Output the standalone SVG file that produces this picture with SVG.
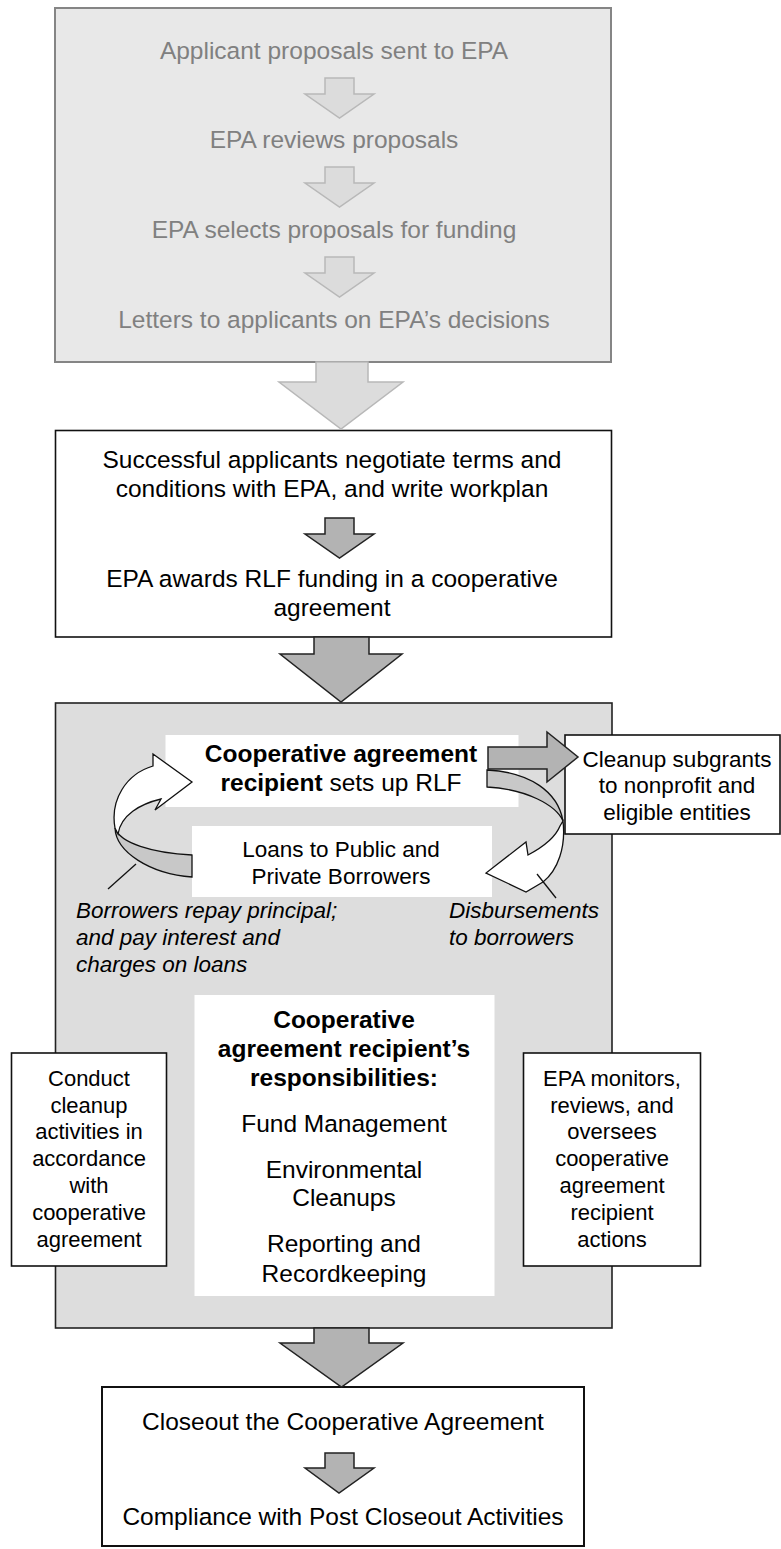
<svg xmlns="http://www.w3.org/2000/svg" width="781" height="1549" viewBox="0 0 781 1549">
<style>
.t{font-family:"Liberation Sans",Arial,sans-serif;text-anchor:middle;fill:#000}
.g{fill:#808080}
.big{font-size:24.5px}
.mid{font-size:22.5px}
.sm{font-size:22px}
.b{font-weight:bold}
.i{font-style:italic;text-anchor:start}
.la{fill:#dcdcdc;stroke:#b8b8b8;stroke-width:1.5}
.da{fill:#b3b3b3;stroke:#222;stroke-width:1.5}
.wb{fill:#fff;stroke:#111;stroke-width:1.6}
.rib{stroke:#111;stroke-width:1.3}
</style>
<g id="box-initial">
<rect x="55" y="8" width="556" height="354" fill="#e8e8e8" stroke="#858585" stroke-width="2"/>
<text class="t g big" x="334" y="59">Applicant proposals sent to EPA</text>
<text class="t g big" x="334" y="148">EPA reviews proposals</text>
<text class="t g big" x="334" y="238">EPA selects proposals for funding</text>
<text class="t g big" x="334" y="328">Letters to applicants on EPA’s decisions</text>
</g>
<g id="box-negotiate">
<rect class="wb" x="55.5" y="430.5" width="556" height="206.5"/>
<text class="t big" x="332" y="468">Successful applicants negotiate terms and</text>
<text class="t big" x="332" y="497">conditions with EPA, and write workplan</text>
<text class="t big" x="332" y="587">EPA awards RLF funding in a cooperative</text>
<text class="t big" x="332" y="616">agreement</text>
</g>
<g id="box-rlf">
<rect x="55.5" y="703" width="556.5" height="625" fill="#dddddd" stroke="#222" stroke-width="1.6"/>
</g>
<g id="node-setup">
<rect x="165.5" y="735" width="353" height="72" fill="#fff"/>
<text class="t big" x="341" y="762"><tspan class="b">Cooperative agreement</tspan></text>
<text class="t big" x="341" y="791"><tspan class="b">recipient</tspan> sets up RLF</text>
</g>
<g id="node-loans">
<rect x="192" y="826" width="300" height="71" fill="#fff"/>
<text class="t mid" x="341" y="857">Loans to Public and</text>
<text class="t mid" x="341" y="884">Private Borrowers</text>
</g>
<g id="node-subgrants">
<rect class="wb" x="565" y="735" width="215" height="99"/>
<text class="t mid" x="677" y="767">Cleanup subgrants</text>
<text class="t mid" x="677" y="793">to nonprofit and</text>
<text class="t mid" x="677" y="820">eligible entities</text>
</g>
<g id="node-responsibilities">
<rect x="194.5" y="995" width="300" height="301" fill="#fff"/>
<text class="t big b" x="344" y="1028">Cooperative</text>
<text class="t big b" x="344" y="1057">agreement recipient’s</text>
<text class="t big b" x="344" y="1086">responsibilities:</text>
<text class="t big" x="344" y="1132">Fund Management</text>
<text class="t big" x="344" y="1178">Environmental</text>
<text class="t big" x="344" y="1206">Cleanups</text>
<text class="t big" x="344" y="1252">Reporting and</text>
<text class="t big" x="344" y="1282">Recordkeeping</text>
</g>
<g id="node-conduct">
<rect class="wb" x="11.5" y="1053" width="155" height="213"/>
<text class="t sm" x="89" y="1086">Conduct</text>
<text class="t sm" x="89" y="1113">cleanup</text>
<text class="t sm" x="89" y="1139">activities in</text>
<text class="t sm" x="89" y="1166">accordance</text>
<text class="t sm" x="89" y="1193">with</text>
<text class="t sm" x="89" y="1220">cooperative</text>
<text class="t sm" x="89" y="1247">agreement</text>
</g>
<g id="node-epa-monitors">
<rect class="wb" x="523.5" y="1053" width="177" height="213"/>
<text class="t sm" x="612" y="1086">EPA monitors,</text>
<text class="t sm" x="612" y="1113">reviews, and</text>
<text class="t sm" x="612" y="1139">oversees</text>
<text class="t sm" x="612" y="1166">cooperative</text>
<text class="t sm" x="612" y="1193">agreement</text>
<text class="t sm" x="612" y="1220">recipient</text>
<text class="t sm" x="612" y="1247">actions</text>
</g>
<g id="box-closeout">
<rect x="102" y="1387" width="482" height="159" fill="#fff" stroke="#111" stroke-width="2"/>
<text class="t big" x="343" y="1430">Closeout the Cooperative Agreement</text>
<text class="t big" x="343" y="1525">Compliance with Post Closeout Activities</text>
</g>
<g id="connectors">
<path class="la" d="M325,78 H354 V94 H374 L339.5,118 L305,94 H325 Z"/>
<path class="la" d="M325,167 H354 V183 H374 L339.5,207 L305,183 H325 Z"/>
<path class="la" d="M325,257 H354 V273 H374 L339.5,297 L305,273 H325 Z"/>
<path class="la" d="M316,362 H368 V382 H403 L341,429 L279,382 H316 Z"/>
<path class="da" d="M325,518 H354 V534 H374 L339.5,558 L305,534 H325 Z"/>
<path class="da" d="M314,637 H369 V654 H402 L341,702 L280,654 H314 Z"/>
<path class="da" d="M488,747 H547 V732 L578,757 L547,782 V769 H488 Z"/>
<path class="rib" fill="#c8c8c8" d="M192,855 C152,853 120,843 115,828 C116,852 150,874 192,877 Z"/>
<path class="rib" fill="#fff" d="M115,828 C110,800 126,774 153,766 L153,754 L192,782 L155,810 L161,799 C140,804 121,815 118,834 Z"/>
<path class="rib" fill="#c8c8c8" d="M487,770 C530,772 558,792 563,821 C556,805 526,789 487,787 Z"/>
<path class="rib" fill="#fff" d="M563,821 C566,847 558,870 543,882 L526,892 L486,873 L526,842 L528,855 C545,846 556,836 560,826 Z"/>
<line x1="108" y1="889" x2="136" y2="864" stroke="#111" stroke-width="1.3"/>
<line x1="537" y1="874" x2="556" y2="898" stroke="#111" stroke-width="1.3"/>
<path class="da" d="M314,1328 H369 V1343 H403 L341.5,1387 L280,1343 H314 Z"/>
<path class="da" d="M325,1453 H354 V1468 H374 L339,1493 L305,1468 H325 Z"/>
</g>
<g id="labels">
<text class="t mid i" x="76" y="918">Borrowers repay principal;</text>
<text class="t mid i" x="76" y="945">and pay interest and</text>
<text class="t mid i" x="76" y="972">charges on loans</text>
<text class="t mid i" x="449" y="918">Disbursements</text>
<text class="t mid i" x="449" y="945">to borrowers</text>
</g>
</svg>
